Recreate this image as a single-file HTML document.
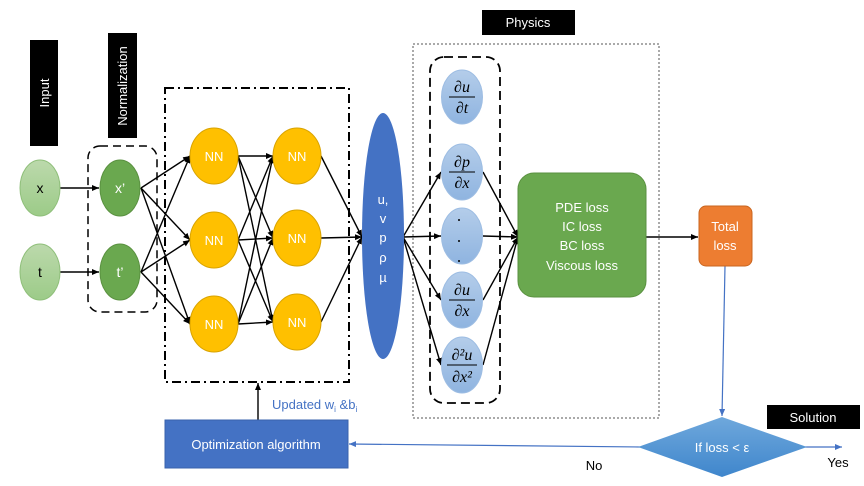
<!DOCTYPE html>
<html><head><meta charset="utf-8"><style>
html,body{margin:0;padding:0;background:#fff;}
svg{display:block;font-family:"Liberation Sans",sans-serif;}
</style></head><body>
<svg width="864" height="486" viewBox="0 0 864 486" xmlns="http://www.w3.org/2000/svg">
<defs>
<marker id="a" markerWidth="8" markerHeight="8" refX="7" refY="3" orient="auto" markerUnits="userSpaceOnUse"><path d="M0,0 L7,3 L0,6 z" fill="#000"/></marker>
<marker id="b" markerWidth="8" markerHeight="8" refX="7" refY="3" orient="auto" markerUnits="userSpaceOnUse"><path d="M0,0 L7,3 L0,6 z" fill="#4472c4"/></marker>
<linearGradient id="lg" x1="0" y1="0" x2="0" y2="1"><stop offset="0" stop-color="#bcd9ac"/><stop offset="1" stop-color="#9ccb88"/></linearGradient>
<linearGradient id="bg" x1="0" y1="0" x2="0" y2="1"><stop offset="0" stop-color="#b4cdea"/><stop offset="1" stop-color="#8fb4e0"/></linearGradient>
<linearGradient id="dg" x1="0" y1="0" x2="0" y2="1"><stop offset="0" stop-color="#6fa8dc"/><stop offset="1" stop-color="#3f86cc"/></linearGradient>
</defs>

<rect x="30" y="40" width="28" height="106" fill="#000"/>
<text transform="translate(49,93) rotate(-90)" fill="#fff" font-size="13" text-anchor="middle">Input</text>
<rect x="108" y="33" width="29" height="105" fill="#000"/>
<text transform="translate(127,86) rotate(-90)" fill="#fff" font-size="13" text-anchor="middle">Normalization</text>
<rect x="482" y="10" width="93" height="25" fill="#000"/>
<text x="528" y="27" fill="#fff" font-size="13" text-anchor="middle">Physics</text>
<rect x="767" y="405" width="93" height="24" fill="#000"/>
<text x="813" y="422" fill="#fff" font-size="13" text-anchor="middle">Solution</text>

<rect x="88" y="146" width="69" height="166" rx="12" fill="none" stroke="#000" stroke-width="1.5" stroke-dasharray="8,5"/>
<rect x="165" y="88" width="184" height="294" fill="none" stroke="#000" stroke-width="2" stroke-dasharray="9,4,2,4"/>
<rect x="413" y="44" width="246" height="374" fill="none" stroke="#555" stroke-width="1" stroke-dasharray="2,2"/>
<rect x="430" y="57" width="70" height="346" rx="14" fill="none" stroke="#000" stroke-width="1.8" stroke-dasharray="9,5"/>

<g stroke="#000" stroke-width="1.4" fill="none" marker-end="url(#a)">
<line x1="60" y1="188" x2="99" y2="188"/>
<line x1="60" y1="272" x2="99" y2="272"/>
<line x1="141" y1="188" x2="190" y2="156"/>
<line x1="141" y1="188" x2="190" y2="240"/>
<line x1="141" y1="188" x2="190" y2="324"/>
<line x1="141" y1="272" x2="190" y2="156"/>
<line x1="141" y1="272" x2="190" y2="240"/>
<line x1="141" y1="272" x2="190" y2="324"/>
<line x1="238" y1="156" x2="273" y2="156"/>
<line x1="238" y1="156" x2="273" y2="238"/>
<line x1="238" y1="156" x2="273" y2="322"/>
<line x1="238" y1="240" x2="273" y2="156"/>
<line x1="238" y1="240" x2="273" y2="238"/>
<line x1="238" y1="240" x2="273" y2="322"/>
<line x1="238" y1="324" x2="273" y2="156"/>
<line x1="238" y1="324" x2="273" y2="238"/>
<line x1="238" y1="324" x2="273" y2="322"/>
<line x1="321" y1="156" x2="362" y2="237"/>
<line x1="321" y1="238" x2="362" y2="237"/>
<line x1="321" y1="322" x2="362" y2="237"/>
<line x1="403" y1="237" x2="441" y2="172"/>
<line x1="403" y1="237" x2="441" y2="236"/>
<line x1="403" y1="237" x2="441" y2="300"/>
<line x1="403" y1="237" x2="441" y2="365"/>
<line x1="483" y1="172" x2="518" y2="237"/>
<line x1="483" y1="236" x2="518" y2="237"/>
<line x1="483" y1="300" x2="518" y2="237"/>
<line x1="483" y1="365" x2="518" y2="237"/>
<line x1="646" y1="237" x2="698" y2="237"/>
<line x1="258" y1="420" x2="258" y2="383"/>
</g>
<g stroke="#4472c4" stroke-width="1.2" fill="none" marker-end="url(#b)">
<line x1="725" y1="266" x2="722" y2="416"/>
<line x1="640" y1="447" x2="349" y2="444"/>
<line x1="805" y1="447" x2="842" y2="447"/>
</g>

<ellipse cx="40" cy="188" rx="20" ry="28" fill="url(#lg)" stroke="#8fbf7a"/>
<ellipse cx="40" cy="272" rx="20" ry="28" fill="url(#lg)" stroke="#8fbf7a"/>
<text x="40" y="193" font-size="14" text-anchor="middle">x</text>
<text x="40" y="277" font-size="14" text-anchor="middle">t</text>
<ellipse cx="120" cy="188" rx="20" ry="28" fill="#6aa84f" stroke="#5a9140"/>
<ellipse cx="120" cy="272" rx="20" ry="28" fill="#6aa84f" stroke="#5a9140"/>
<text x="120" y="193" font-size="14" fill="#fff" text-anchor="middle">x’</text>
<text x="120" y="277" font-size="14" fill="#fff" text-anchor="middle">t’</text>

<g fill="#ffc000" stroke="#d9a300">
<ellipse cx="214" cy="156" rx="24" ry="28"/><ellipse cx="214" cy="240" rx="24" ry="28"/><ellipse cx="214" cy="324" rx="24" ry="28"/>
<ellipse cx="297" cy="156" rx="24" ry="28"/><ellipse cx="297" cy="238" rx="24" ry="28"/><ellipse cx="297" cy="322" rx="24" ry="28"/>
</g>
<g fill="#fff" font-size="13" text-anchor="middle">
<text x="214" y="161">NN</text><text x="214" y="245">NN</text><text x="214" y="329">NN</text>
<text x="297" y="161">NN</text><text x="297" y="243">NN</text><text x="297" y="327">NN</text>
</g>

<ellipse cx="383" cy="236" rx="21" ry="123" fill="#4472c4"/>
<g fill="#fff" font-size="13" text-anchor="middle">
<text x="383" y="204">u,</text><text x="383" y="223">v</text><text x="383" y="242">p</text><text x="383" y="262">ρ</text><text x="383" y="282">µ</text>
</g>

<g fill="url(#bg)" stroke="#9dbde3">
<ellipse cx="462" cy="97" rx="20.5" ry="27"/>
<ellipse cx="462" cy="172" rx="20.5" ry="28"/>
<ellipse cx="462" cy="236" rx="20.5" ry="28"/>
<ellipse cx="462" cy="300" rx="20.5" ry="28"/>
<ellipse cx="462" cy="365" rx="20.5" ry="28"/>
</g>
<g font-family="Liberation Serif,serif" font-style="italic" font-size="16" text-anchor="middle" fill="#000">
<text x="462" y="92">∂u</text><line x1="449" y1="97" x2="475" y2="97" stroke="#000"/><text x="462" y="113">∂t</text>
<text x="462" y="167">∂p</text><line x1="449" y1="172" x2="475" y2="172" stroke="#000"/><text x="462" y="188">∂x</text>
<text x="462" y="295">∂u</text><line x1="449" y1="300" x2="475" y2="300" stroke="#000"/><text x="462" y="316">∂x</text>
<text x="462" y="360">∂²u</text><line x1="447" y1="365" x2="477" y2="365" stroke="#000"/><text x="462" y="382">∂x²</text>
</g>
<g fill="#000"><circle cx="459" cy="220" r="1"/><circle cx="459" cy="241" r="1"/><circle cx="459" cy="261" r="1"/></g>

<rect x="518" y="173" width="128" height="124" rx="16" fill="#6aa84f" stroke="#5a9140"/>
<g fill="#fff" font-size="13" text-anchor="middle">
<text x="582" y="212">PDE loss</text><text x="582" y="231">IC loss</text><text x="582" y="250">BC loss</text><text x="582" y="270">Viscous loss</text>
</g>

<rect x="699" y="206" width="53" height="60" rx="7" fill="#ed7d31" stroke="#c9651f"/>
<text x="725" y="231" fill="#fff" font-size="13" text-anchor="middle">Total</text>
<text x="725" y="250" fill="#fff" font-size="13" text-anchor="middle">loss</text>

<polygon points="638,447 722,417 807,447 722,477" fill="url(#dg)"/>
<text x="722" y="452" fill="#fff" font-size="13" text-anchor="middle">If loss &lt; ε</text>

<rect x="165" y="420" width="183" height="48" fill="#4472c4" stroke="#3a63ad"/>
<text x="256" y="449" fill="#fff" font-size="13" text-anchor="middle">Optimization algorithm</text>

<text x="272" y="409" fill="#4472c4" font-size="13">Updated  w<tspan font-size="8" dy="3">i</tspan><tspan dy="-3"> &amp;b</tspan><tspan font-size="8" dy="3">i</tspan></text>
<text x="594" y="470" font-size="13" text-anchor="middle">No</text>
<text x="838" y="467" font-size="13" text-anchor="middle">Yes</text>
</svg>
</body></html>
